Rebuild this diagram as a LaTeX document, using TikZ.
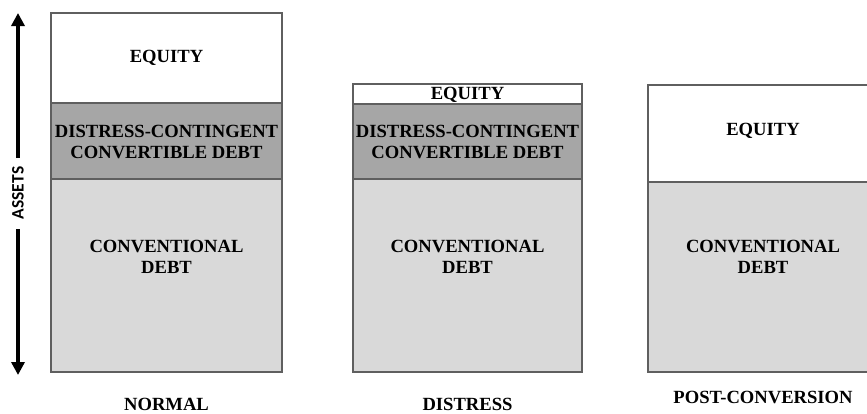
\documentclass[tikz,border=0pt]{standalone}
\usepackage{fontspec}
\setmainfont{Liberation Serif}
\newfontfamily\labfont{Carlito}
\usetikzlibrary{arrows.meta}
\definecolor{dark}{HTML}{A6A6A6}
\definecolor{light}{HTML}{D9D9D9}
\definecolor{edge}{HTML}{5F5F5F}
\tikzset{
  part/.style={draw=edge, line width=1.4pt},
  txt/.style={font=\bfseries\fontsize{18.6}{21}\selectfont, align=center, inner sep=0pt},
  caption/.style={font=\bfseries\fontsize{18.6}{21}\selectfont, inner sep=0pt},
  axis/.style={line width=3.6pt, -{Triangle[width=13pt,length=13pt]}}
}
\begin{document}
\begin{tikzpicture}[x=1pt,y=-1pt]
\useasboundingbox (0,0) rectangle (867,413);
\clip (0,0) rectangle (867,413);
% NORMAL
\draw[part, fill=white] (51,13) rectangle (282,103);
\draw[part, fill=dark] (51,103) rectangle (282,179);
\draw[part, fill=light] (51,179) rectangle (282,372);
\node[txt] (n1) at (166.5,58) {EQUITY};
\node[txt] (n2) at (166.5,142) {DISTRESS-CONTINGENT\\CONVERTIBLE DEBT};
\node[txt] (n3) at (166.5,257) {CONVENTIONAL\\DEBT};
\node[caption] (n4) at (166.5,404.5) {NORMAL};
% DISTRESS
\draw[part, fill=white] (353,84) rectangle (582,104);
\draw[part, fill=dark] (353,104) rectangle (582,179);
\draw[part, fill=light] (353,179) rectangle (582,372);
\node[txt] (d1) at (467.5,94.5) {EQUITY};
\node[txt] (d2) at (467.5,142) {DISTRESS-CONTINGENT\\CONVERTIBLE DEBT};
\node[txt] (d3) at (467.5,257) {CONVENTIONAL\\DEBT};
\node[caption] (d4) at (467.5,404.5) {DISTRESS};
% POST-CONVERSION
\draw[part, fill=white] (648,85) rectangle (878,182);
\draw[part, fill=light] (648,182) rectangle (878,372);
\node[txt] (p1) at (763,131) {EQUITY};
\node[txt] (p3) at (763,257) {CONVENTIONAL\\DEBT};
\node[caption] (p4) at (763,397) {POST-CONVERSION};
% ASSETS axis
\node[font=\labfont\bfseries\fontsize{17.5}{19}\selectfont, rotate=90, inner sep=0pt] (as) at (18,193) {ASSETS};
\coordinate (atop) at (18,13);
\coordinate (abot) at (18,375);
\coordinate (g1) at (18,158);
\coordinate (g2) at (18,229);
\draw[axis] (g1) -- (atop);
\draw[axis] (g2) -- (abot);
\end{tikzpicture}
\end{document}
